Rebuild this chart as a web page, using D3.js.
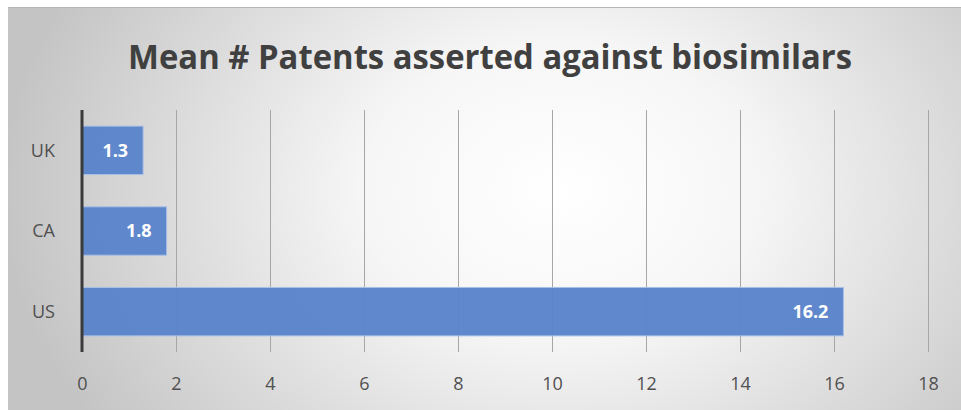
<!DOCTYPE html>
<html><head><meta charset="utf-8">
<script src="https://cdn.jsdelivr.net/npm/d3@7"></script>
<style>body{margin:0;background:#fff}svg{display:block}</style>
</head><body>
<script>
const categories = ["UK", "CA", "US"];
const values = [1.3, 1.8, 16.2];
const valueLabels = ["1.3", "1.8", "16.2"];
const xTicks = [0, 2, 4, 6, 8, 10, 12, 14, 16, 18];
const title = "Mean # Patents asserted against biosimilars";

const W = 961, H = 410;
const svg = d3.select("body").append("svg").attr("width", W).attr("height", H);
const defs = svg.append("defs");
const rg = defs.append("radialGradient").attr("id", "bg")
  .attr("gradientUnits", "userSpaceOnUse")
  .attr("cx", 560).attr("cy", 190).attr("r", 560)
  .attr("gradientTransform", "translate(560,190) scale(1,0.75) translate(-560,-190)");
rg.append("stop").attr("offset", "0").attr("stop-color", "#ffffff");
rg.append("stop").attr("offset", "0.35").attr("stop-color", "#f6f6f6");
rg.append("stop").attr("offset", "1").attr("stop-color", "#c4c4c4");

svg.append("rect").attr("x", 8).attr("y", 7).attr("width", W - 8).attr("height", H - 7).attr("fill", "url(#bg)");
svg.append("line").attr("x1", 8).attr("x2", W).attr("y1", 7.5).attr("y2", 7.5).attr("stroke", "#b5b5b5");

const x = d3.scaleLinear().domain([0, 18]).range([82, 928]);
const y = d3.scaleBand().domain(categories).range([110, 352]).paddingInner(0.4).paddingOuter(0.2);

// gridlines
svg.append("g").selectAll("line").data(xTicks.filter(d => d > 0)).join("line")
  .attr("x1", d => Math.round(x(d)) + 0.5).attr("x2", d => Math.round(x(d)) + 0.5)
  .attr("y1", 110).attr("y2", 352).attr("stroke", "#a6a6a6").attr("stroke-width", 1);

// bars
svg.append("g").selectAll("rect").data(values).join("rect")
  .attr("x", x(0)).attr("y", (d, i) => y(categories[i]))
  .attr("width", d => x(d) - x(0)).attr("height", y.bandwidth())
  .attr("fill", "#5a83ca").attr("fill-opacity", 0.96)
  .attr("stroke", "#a8bfe6").attr("stroke-width", 1);

// bar labels
svg.append("g").selectAll("text").data(values).join("text")
  .attr("x", d => x(d) - 15).attr("y", (d, i) => y(categories[i]) + y.bandwidth() / 2)
  .attr("dy", "0.36em").attr("text-anchor", "end")
  .attr("font-family", "'Open Sans', sans-serif").attr("font-weight", "bold")
  .attr("font-size", 18).attr("fill", "#ffffff")
  .text((d, i) => valueLabels[i]);

// y axis line
svg.append("line").attr("x1", x(0)).attr("x2", x(0)).attr("y1", 110).attr("y2", 352)
  .attr("stroke", "#3a3a3a").attr("stroke-width", 3);

// category labels
const yAxis = d3.axisLeft(y).tickSize(0).tickPadding(0);
const ya = svg.append("g").attr("transform", "translate(55,0)").call(yAxis);
ya.select(".domain").remove();
ya.selectAll("text").attr("font-family", "'Open Sans', sans-serif").attr("font-size", 18)
  .attr("fill", "#505050").attr("dy", "0.36em");

// x tick labels
const xAxis = d3.axisBottom(x).tickValues(xTicks).tickSize(0).tickPadding(0);
const xa = svg.append("g").attr("transform", "translate(0,384)").call(xAxis);
xa.select(".domain").remove();
xa.selectAll("text").attr("font-family", "'Open Sans', sans-serif").attr("font-size", 18)
  .attr("fill", "#505050").attr("dy", "0.36em");

// title
svg.append("text").attr("x", 490).attr("y", 69).attr("text-anchor", "middle")
  .attr("font-family", "'Open Sans', sans-serif").attr("font-weight", "bold")
  .attr("font-size", 34).attr("fill", "#404040")
  .attr("textLength", 724).attr("lengthAdjust", "spacingAndGlyphs")
  .text(title);
</script>
</body></html>
